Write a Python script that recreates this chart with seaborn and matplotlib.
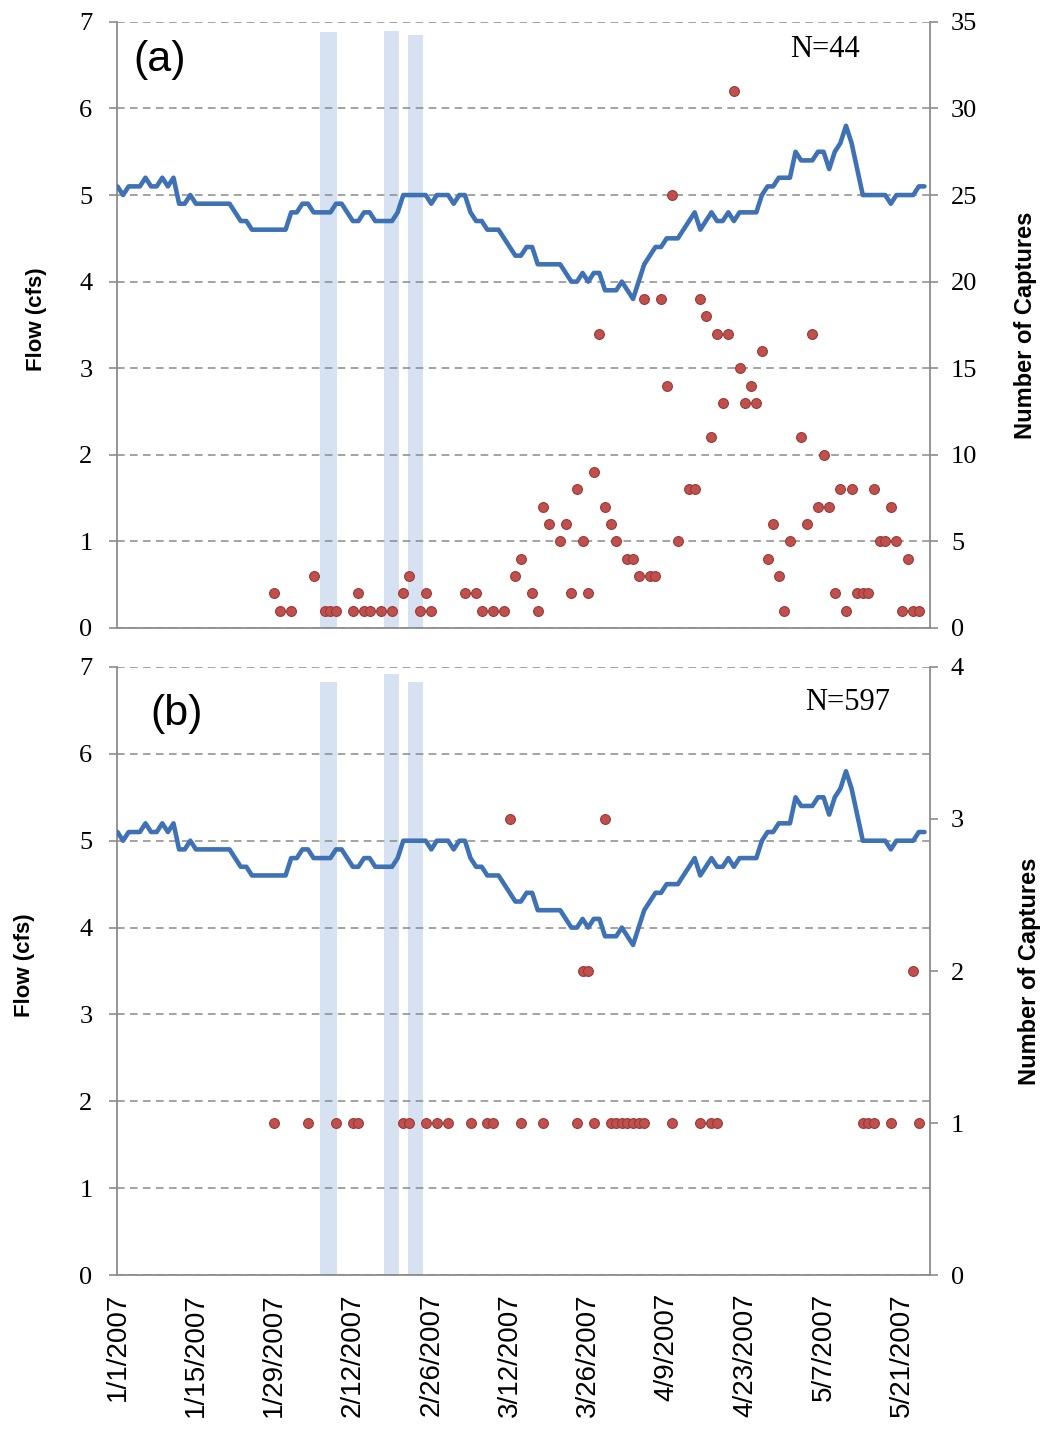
import matplotlib
matplotlib.use("Agg")
import matplotlib.pyplot as plt
import seaborn as sns
import pandas as pd

# daily mean flow (cfs), starting 1/1/2007
flow = [5.1, 5.0, 5.1, 5.1, 5.1, 5.2, 5.1, 5.1, 5.2, 5.1,
        5.2, 4.9, 4.9, 5.0, 4.9, 4.9, 4.9, 4.9, 4.9, 4.9,
        4.9, 4.8, 4.7, 4.7, 4.6, 4.6, 4.6, 4.6, 4.6, 4.6,
        4.6, 4.8, 4.8, 4.9, 4.9, 4.8, 4.8, 4.8, 4.8, 4.9,
        4.9, 4.8, 4.7, 4.7, 4.8, 4.8, 4.7, 4.7, 4.7, 4.7,
        4.8, 5.0, 5.0, 5.0, 5.0, 5.0, 4.9, 5.0, 5.0, 5.0,
        4.9, 5.0, 5.0, 4.8, 4.7, 4.7, 4.6, 4.6, 4.6, 4.5,
        4.4, 4.3, 4.3, 4.4, 4.4, 4.2, 4.2, 4.2, 4.2, 4.2,
        4.1, 4.0, 4.0, 4.1, 4.0, 4.1, 4.1, 3.9, 3.9, 3.9,
        4.0, 3.9, 3.8, 4.0, 4.2, 4.3, 4.4, 4.4, 4.5, 4.5,
        4.5, 4.6, 4.7, 4.8, 4.6, 4.7, 4.8, 4.7, 4.7, 4.8,
        4.7, 4.8, 4.8, 4.8, 4.8, 5.0, 5.1, 5.1, 5.2, 5.2,
        5.2, 5.5, 5.4, 5.4, 5.4, 5.5, 5.5, 5.3, 5.5, 5.6,
        5.8, 5.6, 5.3, 5.0, 5.0, 5.0, 5.0, 5.0, 4.9, 5.0,
        5.0, 5.0, 5.0, 5.1, 5.1]

# (a) captures: day after 1/1/2007 and count
days_a = [28, 29, 31, 35, 37, 38, 39, 42, 43, 44, 45, 47, 49, 51, 52, 54, 55, 56,
          62, 64, 65, 67, 69, 71, 72, 74, 75, 76, 77, 79, 80, 81, 82, 83, 84, 85,
          86, 87, 88, 89, 91, 92, 93, 94, 95, 96, 97, 98, 99, 100, 102, 103,
          104, 105, 106, 107, 108, 109, 110, 111, 112, 113, 114, 115, 116, 117,
          118, 119, 120, 122, 123, 124, 125, 126, 127, 128, 129, 130, 131, 132,
          133, 134, 135, 136, 137, 138, 139, 140, 141, 142, 143]
counts_a = [2, 1, 1, 3, 1, 1, 1, 1, 2, 1, 1, 1, 1, 2, 3, 1, 2, 1,
            2, 2, 1, 1, 1, 3, 4, 2, 1, 7, 6, 5, 6, 2, 8, 5, 2, 9,
            17, 7, 6, 5, 4, 4, 3, 19, 3, 3, 19, 14, 25, 5, 8, 8,
            19, 18, 11, 17, 13, 17, 31, 15, 13, 14, 13, 16, 4, 6,
            3, 1, 5, 11, 6, 17, 7, 10, 7, 2, 8, 1, 8, 2,
            2, 2, 8, 5, 5, 7, 5, 1, 4, 1, 1]

# (b) captures
days_b = [28, 34, 39, 42, 43, 51, 52, 55, 57, 59, 63, 66, 67, 70, 72, 76, 82, 83,
          84, 85, 87, 88, 89, 90, 91, 92, 93, 94, 99, 104, 106, 107, 133, 134,
          135, 138, 142, 143]
counts_b = [1, 1, 1, 1, 1, 1, 1, 1, 1, 1, 1, 1, 1, 3, 1, 1, 1, 2,
            2, 1, 3, 1, 1, 1, 1, 1, 1, 1, 1, 1, 1, 1, 1, 1,
            1, 1, 2, 1]

# shaded periods (days after 1/1/2007)
shade_start = [36.2, 47.6, 51.8]
shade_end = [39.1, 50.2, 54.6]

tick_labels = ["1/1/2007", "1/15/2007", "1/29/2007", "2/12/2007", "2/26/2007",
               "3/12/2007", "3/26/2007", "4/9/2007", "4/23/2007", "5/7/2007",
               "5/21/2007"]

start = pd.Timestamp("2007-01-01")
flow_df = pd.DataFrame({"date": pd.date_range(start, periods=len(flow), freq="D"),
                        "flow": flow})
tick_dates = pd.date_range(start, periods=len(tick_labels), freq="14D")

line_c = "#3f72b5"
dot_c = "#c0504d"
band_c = "#d6e2f1"
axis_c = "#8c8c8c"
serif = ["Liberation Serif", "DejaVu Serif"]

sns.set_style("white")
plt.rcParams["font.family"] = ["Liberation Sans", "DejaVu Sans"]
plt.rcParams["text.color"] = "black"
plt.rcParams["axes.labelcolor"] = "black"
plt.rcParams["xtick.labelcolor"] = "black"
plt.rcParams["ytick.labelcolor"] = "black"

fig = plt.figure(figsize=(10.45, 14.31), dpi=100)
ax_a = fig.add_axes([0.1124, 0.5612, 0.7776, 0.4235])
ax_b = fig.add_axes([0.1124, 0.1090, 0.7776, 0.4249])


def panel(ax, days, counts, cmax, cstep, tag, tag_xy, ntext, n_xy, tops, flow_lab_x, cap_lab_x):
    for s, e, top in zip(shade_start, shade_end, tops):
        ax.axvspan(start + pd.Timedelta(days=s), start + pd.Timedelta(days=e),
                   ymin=0, ymax=top, color=band_c, lw=0, zorder=0.3)
    sns.lineplot(data=flow_df, x="date", y="flow", ax=ax, color=line_c,
                 linewidth=3.3, zorder=3)
    ax.set_xlim(start, start + pd.Timedelta(days=145))
    ax.set_ylim(0, 7)
    ax.set_yticks(range(8))
    ax.yaxis.grid(True, linestyle=(0, (5, 3.5)), color="#8a8a8a", linewidth=1.1)
    ax.set_axisbelow(True)
    ax.set_xticks(tick_dates)
    ax.set_xlabel("")
    ax.set_ylabel("Flow (cfs)", fontsize=16, fontweight="bold", va="center", ha="center")
    ax.yaxis.set_label_coords(flow_lab_x, 0.51)
    for sp in ["top", "right"]:
        ax.spines[sp].set_visible(False)
    for sp in ["left", "bottom"]:
        ax.spines[sp].set_color(axis_c)
        ax.spines[sp].set_linewidth(1.3)
    ax.tick_params(axis="y", direction="out", length=6, width=1.2, color=axis_c,
                   pad=12, labelsize=19)
    ax.tick_params(axis="x", direction="out", length=6, width=1.2, color=axis_c, pad=7)
    for lbl in ax.get_yticklabels():
        lbl.set_fontfamily(serif)

    ax2 = ax.twinx()
    cap_df = pd.DataFrame({"date": start + pd.to_timedelta(days, unit="D"), "n": counts})
    sns.scatterplot(data=cap_df, x="date", y="n", ax=ax2, color=dot_c, s=50,
                    edgecolor="#9a3a37", linewidth=0.8, zorder=4)
    ax2.set_ylim(0, cmax)
    ax2.set_yticks(range(0, cmax + 1, cstep))
    ax2.set_ylabel("Number of Captures", fontsize=17, fontweight="bold",
                   rotation=90, va="center", ha="center")
    ax2.yaxis.set_label_coords(cap_lab_x, 0.5)
    for sp in ["top", "left", "bottom"]:
        ax2.spines[sp].set_visible(False)
    ax2.spines["right"].set_color(axis_c)
    ax2.spines["right"].set_linewidth(1.3)
    ax2.tick_params(axis="y", direction="out", length=6, width=1.2, color=axis_c,
                    pad=9, labelsize=19)
    for lbl in ax2.get_yticklabels():
        lbl.set_fontfamily(serif)

    ax.text(tag_xy[0], tag_xy[1], tag, transform=ax.transAxes, fontsize=31,
            ha="center", va="center")
    ax.text(n_xy[0], n_xy[1], ntext, transform=ax.transAxes, fontsize=22,
            ha="center", va="center", fontfamily=serif)
    return ax2


panel(ax_a, days_a, counts_a, 35, 5, "(a)", (0.052, 0.937), "N=44", (0.871, 0.954),
      [0.984, 0.985, 0.979], -0.1, 1.117)
ax_a.set_xticklabels([])

panel(ax_b, days_b, counts_b, 4, 1, "(b)", (0.073, 0.923), "N=597", (0.899, 0.942),
      [0.976, 0.988, 0.976], -0.114, 1.123)
ax_b.set_xticklabels(tick_labels, rotation=90, fontsize=20, va="top", ha="center")

fig.savefig("out.png", dpi=100)
